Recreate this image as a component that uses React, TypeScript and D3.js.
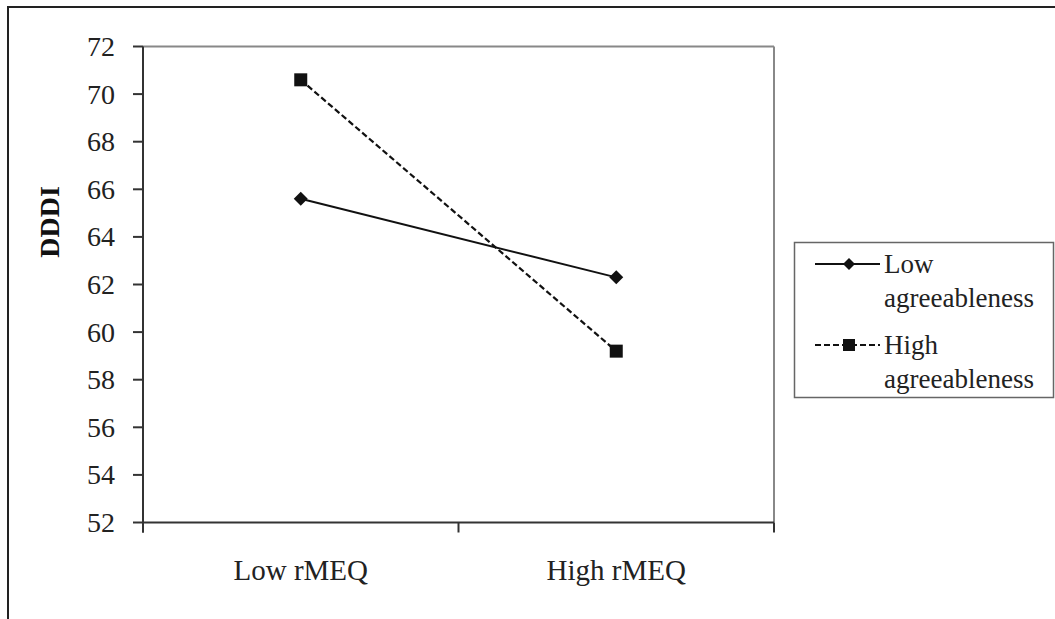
import React from "react";
import * as d3 from "d3";

const categories = ["Low rMEQ", "High rMEQ"];
const lowAgree = [65.6, 62.3];
const highAgree = [70.6, 59.2];
const yTicks = [52, 54, 56, 58, 60, 62, 64, 66, 68, 70, 72];
const seriesNames = ["Low agreeableness", "High agreeableness"];

const W = 1055;
const H = 619;
const left = 143;
const right = 774;
const top = 46.5;
const bottom = 522.5;
const BASE = 22;
const ts: React.CSSProperties = { fontFamily: "'Liberation Serif', monospace" };

function SText(props: {
  x: number;
  y: number;
  size: number;
  anchor?: string;
  dy?: string;
  rotate?: number;
  bold?: boolean;
  fill?: string;
  children: React.ReactNode;
}) {
  const k = props.size / BASE;
  return (
    <text
      transform={`translate(${props.x},${props.y}) rotate(${props.rotate || 0}) scale(${k})`}
      fontSize={BASE}
      textAnchor={props.anchor || "start"}
      dy={props.dy}
      fontWeight={props.bold ? "bold" : "normal"}
      fill={props.fill || "#222"}
      style={ts}
    >
      {props.children}
    </text>
  );
}

export default function App() {
  const x = d3.scalePoint<string>().domain(categories).range([left, right]).padding(0.5);
  const y = d3.scaleLinear().domain([52, 72]).range([bottom, top]);
  const line = d3
    .line<number>()
    .x((_, i) => x(categories[i]) as number)
    .y((d) => y(d));
  const band = (right - left) / categories.length;
  const xTickPos = d3.range(categories.length + 1).map((i) => left + i * band);

  const diamond = (cx: number, cy: number, r: number) =>
    `M${cx},${cy - r}L${cx + r},${cy}L${cx},${cy + r}L${cx - r},${cy}Z`;

  const legendX = 794.5;
  const legendY = 242.5;
  const lineX1 = 815;
  const lineX2 = 880;
  const markX = 849;
  const textX = 884;

  return (
    <svg width={W} height={H} style={{ position: "absolute", left: 0, top: 0, background: "#fff" }}>
      <rect x={8} y={7} width={W + 20} height={H + 20} fill="none" stroke="#222" strokeWidth={2} />

      <line x1={left} x2={right} y1={top} y2={top} stroke="#888" strokeWidth={2} />
      <line x1={right} x2={right} y1={top} y2={bottom} stroke="#888" strokeWidth={2} />

      <line x1={left} x2={left} y1={top} y2={bottom + 10} stroke="#333" strokeWidth={2} />
      {yTicks.map((t) => (
        <g key={t}>
          <line x1={left - 10} x2={left} y1={y(t)} y2={y(t)} stroke="#333" strokeWidth={2} />
          <SText x={115} y={y(t)} dy="0.34em" anchor="end" size={28}>
            {t}
          </SText>
        </g>
      ))}

      <line x1={left} x2={right} y1={bottom} y2={bottom} stroke="#333" strokeWidth={2} />
      {xTickPos.map((p, i) => (
        <line key={i} x1={p} x2={p} y1={bottom} y2={bottom + 10} stroke="#333" strokeWidth={2} />
      ))}
      {categories.map((c) => (
        <SText key={c} x={x(c) as number} y={580} anchor="middle" size={29}>
          {c}
        </SText>
      ))}

      <SText x={59} y={222} rotate={-90} anchor="middle" size={28} bold fill="#111">
        DDDI
      </SText>

      <path d={line(lowAgree) || ""} fill="none" stroke="#111" strokeWidth={2} />
      <path d={line(highAgree) || ""} fill="none" stroke="#111" strokeWidth={2.2} strokeDasharray="6,3" />
      {lowAgree.map((v, i) => (
        <path key={i} d={diamond(x(categories[i]) as number, y(v), 7)} fill="#111" />
      ))}
      {highAgree.map((v, i) => (
        <rect key={i} x={(x(categories[i]) as number) - 6.5} y={y(v) - 6.5} width={13} height={13} fill="#111" />
      ))}

      <rect x={legendX} y={legendY} width={259} height={155} fill="#fff" stroke="#666" strokeWidth={1.5} />
      <line x1={lineX1} x2={lineX2} y1={264} y2={264} stroke="#111" strokeWidth={2} />
      <path d={diamond(markX, 264, 6)} fill="#111" />
      <SText x={textX} y={273} size={27}>Low</SText>
      <SText x={textX} y={307} size={27}>agreeableness</SText>
      <line x1={lineX1} x2={lineX2} y1={345} y2={345} stroke="#111" strokeWidth={2.2} strokeDasharray="6,3" />
      <rect x={markX - 6} y={339} width={12} height={12} fill="#111" />
      <SText x={textX} y={354} size={27}>High</SText>
      <SText x={textX} y={388} size={27}>agreeableness</SText>
      <title>{seriesNames.join(", ")}</title>
    </svg>
  );
}
